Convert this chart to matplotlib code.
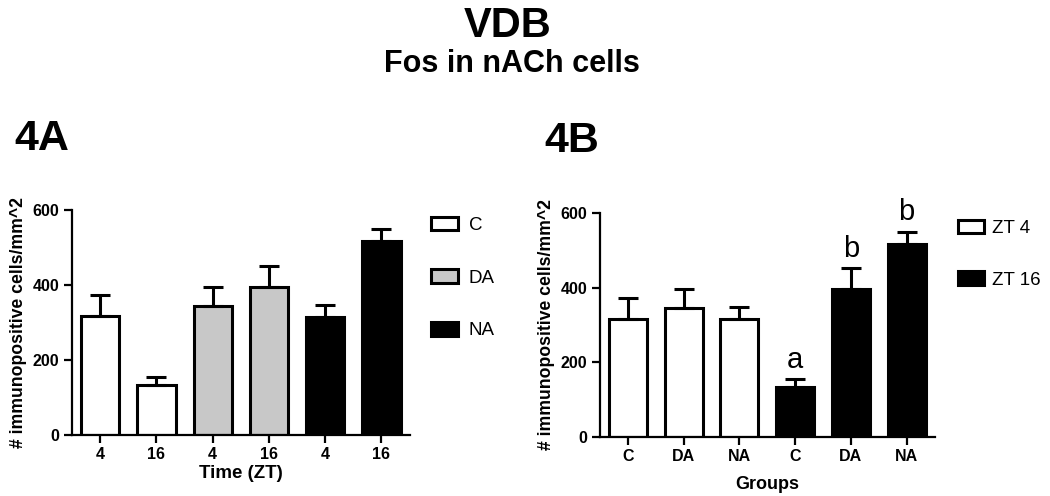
import numpy as np
import matplotlib
matplotlib.use("Agg")
import matplotlib.pyplot as plt
from matplotlib.patches import Patch

plt.rcParams['font.family'] = ['Liberation Sans', 'DejaVu Sans']

# data (means and upward SEM)
groups = ['C', 'DA', 'NA']
zt_labels = ['4', '16']
means_zt4 = [317, 344, 315]
means_zt16 = [133, 395, 517]
sem_zt4 = [56, 51, 32]
sem_zt16 = [22, 56, 32]
letters_zt16 = ['a', 'b', 'b']
group_colors = ['white', '#c8c8c8', 'black']

fig = plt.figure(figsize=(10.5, 4.96), dpi=100)

fig.text(0.483, 0.925, 'VDB', ha='center', va='baseline', fontsize=30, fontweight='bold')
fig.text(0.488, 0.855, 'Fos in nACh cells', ha='center', va='baseline', fontsize=22, fontweight='bold')
fig.text(0.014, 0.698, '4A', ha='left', va='baseline', fontsize=31, fontweight='bold')
fig.text(0.518, 0.694, '4B', ha='left', va='baseline', fontsize=31, fontweight='bold')


def style_axis(ax):
    for s in ['top', 'right']:
        ax.spines[s].set_visible(False)
    for s in ['left', 'bottom']:
        ax.spines[s].set_linewidth(1.6)
    ax.set_ylim(0, 600)
    ax.set_yticks([0, 200, 400, 600])
    ax.set_xlim(-0.5, 5.5)
    ax.tick_params(width=1.6, length=6, labelsize=11.5, direction='out', pad=3)
    for lab in ax.get_xticklabels() + ax.get_yticklabels():
        lab.set_fontweight('bold')
    ax.set_ylabel('# immunopositive cells/mm^2', fontsize=12.7, fontweight='bold', labelpad=4)


err_kw = dict(elinewidth=2.2, capsize=7, capthick=2.2, ecolor='black')

# 4A: grouped by treatment, ZT within
axA = fig.add_axes([0.0686, 0.123, 0.3214, 0.454])
xA = np.arange(6)
valsA, semA, colA, labA = [], [], [], []
for g in range(3):
    valsA += [means_zt4[g], means_zt16[g]]
    semA += [sem_zt4[g], sem_zt16[g]]
    colA += [group_colors[g]] * 2
    labA += zt_labels
axA.bar(xA, valsA, width=0.68, color=colA, edgecolor='black', linewidth=2.2,
        yerr=[np.zeros(6), semA], error_kw=err_kw, zorder=2)
axA.set_xticks(xA)
axA.set_xticklabels(labA)
axA.set_xlabel('Time (ZT)', fontsize=13.5, fontweight='bold', labelpad=2)
style_axis(axA)
handlesA = [Patch(facecolor=c, edgecolor='black', linewidth=2.2, label=g) for c, g in zip(group_colors, groups)]
axA.legend(handles=handlesA, loc='upper left', bbox_to_anchor=(1.015, 1.045), frameon=False,
           fontsize=13.5, labelspacing=1.88, handlelength=1.4, handleheight=0.75, handletextpad=0.6)

# 4B: ZT4 groups then ZT16 groups
axB = fig.add_axes([0.5714, 0.119, 0.3186, 0.452])
xB = np.arange(6)
valsB = means_zt4 + means_zt16
semB = sem_zt4 + sem_zt16
colB = ['white'] * 3 + ['black'] * 3
axB.bar(xB, valsB, width=0.68, color=colB, edgecolor='black', linewidth=2.2,
        yerr=[np.zeros(6), semB], error_kw=err_kw, zorder=2)
axB.set_xticks(xB)
axB.set_xticklabels(groups + groups)
axB.set_xlabel('Groups', fontsize=13, fontweight='bold', labelpad=8)
style_axis(axB)
for i, let in enumerate(letters_zt16):
    axB.annotate(let, (xB[3 + i], means_zt16[i] + sem_zt16[i]), xytext=(0, 4),
                 textcoords='offset points', ha='center', va='bottom', fontsize=21)
handlesB = [Patch(facecolor='white', edgecolor='black', linewidth=2.2, label='ZT 4'),
            Patch(facecolor='black', edgecolor='black', linewidth=2.2, label='ZT 16')]
axB.legend(handles=handlesB, loc='upper left', bbox_to_anchor=(1.02, 1.045), frameon=False,
           fontsize=13.5, labelspacing=1.82, handlelength=1.4, handleheight=0.75, handletextpad=0.4)

fig.savefig('out.png', dpi=100)
